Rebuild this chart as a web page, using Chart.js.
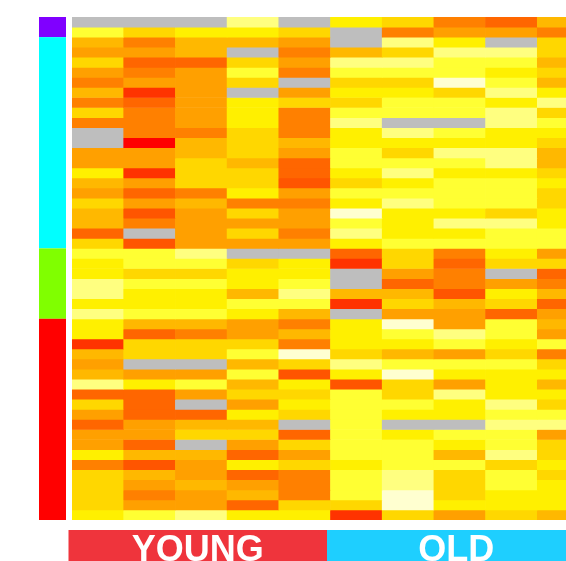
<!DOCTYPE html>
<html>
<head>
<meta charset="utf-8">
<script src="https://cdn.jsdelivr.net/npm/chart.js@4.4.0/dist/chart.umd.min.js"></script>
<style>
  html, body { margin: 0; padding: 0; background: #fff; overflow: hidden; }
  #wrap { position: relative; width: 600px; height: 561px; }
</style>
</head>
<body>
<div id="wrap"><canvas id="heat" width="600" height="561"></canvas></div>
<script>
// columnas (muestras) y grupos
const samples = ['Y1', 'Y2', 'Y3', 'Y4', 'Y5', 'O1', 'O2', 'O3', 'O4', 'O5'];
const sampleGroups = ['YOUNG', 'OLD'];
const sampleGroupSizes = [5, 5];
const sampleGroupColors = ['#ef343c', '#1ecfff'];

// grupos de filas (barra lateral)
const rowGroupSizes = [2, 21, 7, 20];
const rowGroupColors = ['#8000ff', '#00ffff', '#80ff00', '#ff0000'];

// niveles de color 0 (rojo) .. 11 (amarillo claro), null = sin dato
const values = [
  [null, null, null, 10, null, 8, 7, 4, 3, 6],
  [9, 7, 8, 8, 7, null, 4, 5, 5, 4],
  [6, 4, 6, 6, 5, null, 10, 8, null, 7],
  [5, 5, 6, null, 4, 6, 7, 10, 10, 7],
  [7, 3, 3, 7, 5, 10, 10, 9, 9, 6],
  [5, 4, 5, 9, 4, 9, 9, 9, 8, 7],
  [4, 5, 5, 7, null, 7, 7, 11, 9, 6],
  [6, 1, 5, null, 5, 8, 8, 7, 10, 8],
  [4, 3, 5, 8, 7, 7, 9, 9, 8, 10],
  [7, 4, 5, 8, 4, 9, 9, 9, 10, 7],
  [4, 4, 5, 8, 4, 10, null, null, 10, 9],
  [null, 4, 4, 7, 4, 8, 10, 9, 8, 8],
  [null, 0, 6, 7, 6, 8, 8, 8, 8, 7],
  [5, 5, 6, 7, 5, 9, 7, 10, 10, 6],
  [5, 5, 7, 6, 3, 9, 9, 9, 10, 6],
  [8, 1, 7, 7, 3, 8, 10, 8, 8, 7],
  [6, 5, 7, 7, 2, 7, 8, 9, 9, 8],
  [5, 3, 4, 8, 5, 9, 9, 9, 9, 7],
  [7, 5, 6, 4, 4, 8, 10, 9, 9, 7],
  [6, 2, 5, 7, 5, 11, 8, 8, 7, 8],
  [6, 4, 5, 5, 5, 9, 8, 10, 10, 8],
  [3, null, 5, 7, 4, 10, 8, 8, 9, 9],
  [7, 2, 5, 5, 5, 8, 9, 9, 9, 9],
  [9, 9, 10, null, null, 3, 7, 4, 8, 5],
  [8, 9, 9, 7, 8, 1, 7, 3, 7, 7],
  [8, 7, 7, 8, 8, null, 5, 4, null, 3],
  [10, 9, 9, 8, 9, null, 3, 4, 5, 4],
  [10, 8, 8, 6, 10, 6, 6, 2, 8, 6],
  [8, 8, 8, 9, 9, 1, 7, 6, 7, 3],
  [10, 9, 9, 8, 6, null, 5, 5, 3, 5],
  [8, 6, 6, 5, 4, 8, 11, 5, 9, 6],
  [8, 3, 4, 5, 6, 8, 9, 10, 9, 5],
  [1, 7, 7, 7, 4, 8, 8, 9, 8, 9],
  [6, 7, 7, 9, 11, 7, 6, 5, 7, 4],
  [5, null, null, 6, 7, 10, 9, 9, 9, 7],
  [6, 5, 5, 9, 2, 8, 11, 8, 8, 8],
  [10, 8, 9, 6, 8, 2, 7, 5, 8, 6],
  [3, 3, 5, 7, 7, 9, 7, 10, 8, 8],
  [7, 3, null, 5, 8, 9, 9, 8, 10, 7],
  [5, 3, 3, 8, 7, 9, 8, 8, 9, 9],
  [3, 5, 6, 6, null, 9, null, null, 10, 10],
  [5, 5, 7, 7, 3, 9, 8, 9, 9, 5],
  [5, 3, null, 5, 7, 9, 9, 8, 9, 7],
  [8, 6, 6, 3, 5, 9, 9, 6, 10, 7],
  [4, 2, 5, 8, 7, 8, 9, 9, 7, 8],
  [7, 6, 5, 3, 4, 9, 10, 7, 9, 7],
  [7, 5, 6, 5, 4, 9, 10, 7, 9, 8],
  [7, 4, 5, 6, 4, 9, 11, 7, 8, 8],
  [7, 5, 5, 3, 7, 7, 11, 8, 8, 8],
  [8, 9, 10, 8, 8, 1, 7, 5, 7, 6]
];

const palette = ['#ff0000', '#ff3300', '#ff5500', '#ff6600', '#ff8000', '#ffa000',
                 '#ffb800', '#ffd700', '#fff000', '#ffff33', '#ffff80', '#ffffd0'];
const naColor = '#bebebe';

function colorFor(v) {
    return v === null ? naColor : palette[v];
}

// cada fila es un dataset apilado de altura 1
const datasets = values.map((row, i) => ({
    label: 'fila ' + (i + 1),
    data: row.map(() => 1),
    nivel: row,
    backgroundColor: row.map(colorFor),
    borderWidth: 0,
    barPercentage: 1,
    categoryPercentage: 1
}));

const extras = {
    id: 'extras',
    afterDraw(chart) {
        const { ctx, chartArea, scales: { x, y } } = chart;

        // barra lateral de grupos de filas
        let start = 0;
        rowGroupSizes.forEach((n, i) => {
            const y0 = y.getPixelForValue(start);
            const y1 = y.getPixelForValue(start + n);
            ctx.fillStyle = rowGroupColors[i];
            ctx.fillRect(chartArea.left - 33, y0, 27, y1 - y0);
            start += n;
        });

        // bandas YOUNG / OLD
        const half = (x.getPixelForValue(1) - x.getPixelForValue(0)) / 2;
        let c = 0;
        sampleGroupSizes.forEach((n, i) => {
            const x0 = x.getPixelForValue(c) - half - 3.5;
            const x1 = x.getPixelForValue(c + n - 1) + half - 3.5;
            ctx.fillStyle = sampleGroupColors[i];
            ctx.fillRect(x0, 530, x1 - x0, 40);
            ctx.fillStyle = '#ffffff';
            ctx.font = 'bold 36px "Liberation Sans", Arial, sans-serif';
            ctx.textAlign = 'center';
            ctx.textBaseline = 'alphabetic';
            ctx.fillText(sampleGroups[i], (x0 + x1) / 2, 561);
            c += n;
        });
    }
};

new Chart(document.getElementById('heat'), {
    type: 'bar',
    data: { labels: samples, datasets: datasets },
    options: {
        responsive: false,
        animation: false,
        layout: { padding: { left: 72, top: 17, right: 11, bottom: 41 } },
        plugins: { legend: { display: false }, tooltip: { enabled: false } },
        scales: {
            x: { stacked: true, display: false },
            y: { stacked: true, display: false, min: 0, max: 50, reverse: true }
        }
    },
    plugins: [extras]
});
</script>
</body>
</html>
